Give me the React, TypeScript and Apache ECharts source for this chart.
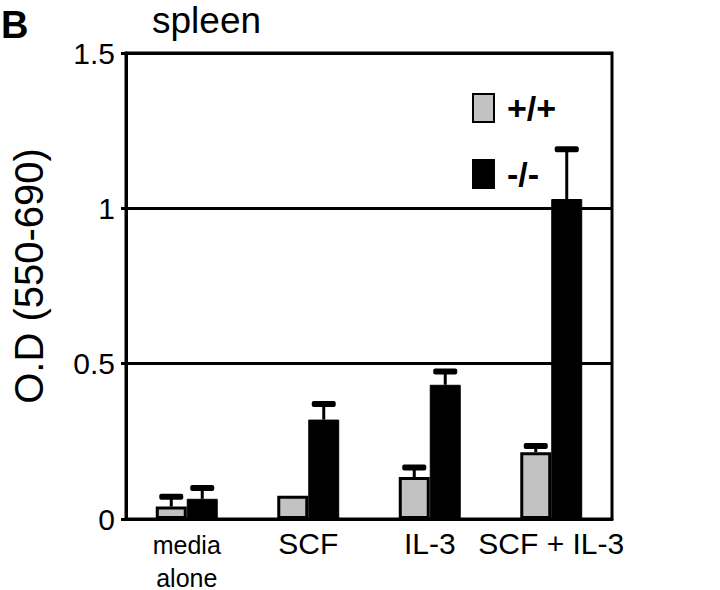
import React, { useEffect, useRef } from "react";
import * as echarts from "echarts";

const categories = ["media\nalone", "SCF", "IL-3", "SCF + IL-3"];
const wildType = [0.04, 0.075, 0.135, 0.215];
const wildTypeErrTop = [0.072, 0.075, 0.166, 0.235];
const knockout = [0.065, 0.32, 0.432, 1.03];
const knockoutErrTop = [0.1, 0.37, 0.475, 1.19];
const yTicks = [0, 0.5, 1, 1.5];
const seriesNames = ["+/+", "-/-"];

const FONT = "Liberation Sans, Arial, sans-serif";

export default function App() {
  const ref = useRef<HTMLDivElement>(null);
  useEffect(() => {
    if (!ref.current) return;
    const chart = echarts.init(ref.current, null, { renderer: "svg" });
    const barFrac = 0.255;
    const errRender = (sign: number) => (params: any, api: any) => {
      const idx = api.value(0);
      const top = api.value(1);
      const base = api.value(2);
      const band = api.size([1, 0])[0];
      const bw = band * barFrac;
      const pt = api.coord([idx, top]);
      const pb = api.coord([idx, base]);
      const x = pt[0] + sign * bw / 2;
      if (top <= base) return { type: "group", children: [] };
      return {
        type: "group",
        children: [
          { type: "line", shape: { x1: x, y1: pb[1], x2: x, y2: pt[1] }, style: { stroke: "#000", lineWidth: 3 } },
          { type: "rect", shape: { x: x - 12, y: pt[1] - 3, width: 24, height: 6, r: 2 }, style: { fill: "#000" } },
        ],
      };
    };
    chart.setOption({
      animation: false,
      backgroundColor: "#fff",
      textStyle: { fontFamily: FONT },
      grid: { left: 126, right: 108, top: 53, bottom: 65, show: true, borderColor: "#000", borderWidth: 3, containLabel: false },
      graphic: [
        { type: "text", left: 1, top: 6, style: { text: "B", font: `bold 38px ${FONT}`, fill: "#000" } },
        { type: "text", left: 152, top: 2, style: { text: "spleen", font: `37px ${FONT}`, fill: "#000" } },
      ],
      legend: {
        data: seriesNames,
        orient: "vertical",
        left: 467,
        top: 86,
        itemWidth: 21,
        itemHeight: 28,
        itemGap: 32,
        icon: "rect",
        textStyle: { fontSize: 34, fontWeight: "bold", color: "#000", fontFamily: FONT, padding: [0, 0, 0, 8] },
      },
      xAxis: {
        type: "category",
        data: categories,
        axisLine: { lineStyle: { color: "#000", width: 3 } },
        axisTick: { show: false },
        axisLabel: {
          interval: 0,
          color: "#000",
          fontSize: 30,
          margin: 9,
          fontFamily: FONT,
          formatter: (v: string) => (v.indexOf("\n") >= 0 ? `{s|${v.replace("\n", "}\n{s|")}}` : v),
          rich: { s: { fontSize: 25, lineHeight: 33, color: "#000", fontFamily: FONT } },
        },
      },
      yAxis: {
        type: "value",
        min: yTicks[0],
        max: yTicks[yTicks.length - 1],
        interval: 0.5,
        name: "O.D (550-690)",
        nameLocation: "middle",
        nameGap: 77,
        nameRotate: 90,
        nameTextStyle: { fontSize: 40, color: "#000", fontFamily: FONT, padding: [0, 0, 0, 20] },
        axisLine: { show: true, lineStyle: { color: "#000", width: 3 } },
        axisTick: { show: true, length: 5, lineStyle: { color: "#000", width: 3 } },
        axisLabel: { color: "#000", fontSize: 30, margin: 11, fontFamily: FONT, formatter: (v: number) => String(v) },
        splitLine: { show: true, lineStyle: { color: "#000", width: 3 } },
      },
      series: [
        {
          name: seriesNames[0],
          type: "bar",
          data: wildType,
          barWidth: `${barFrac * 100}%`,
          barGap: "0%",
          itemStyle: { color: "#c2c2c2", borderColor: "#000", borderWidth: 3 },
        },
        {
          name: seriesNames[1],
          type: "bar",
          data: knockout,
          barWidth: `${barFrac * 100}%`,
          barGap: "0%",
          itemStyle: { color: "#000", borderColor: "#000", borderWidth: 1 },
        },
        {
          type: "custom",
          renderItem: errRender(-1),
          data: wildType.map((v, i) => [i, wildTypeErrTop[i], v]),
          encode: { x: 0, y: 1 },
          z: 3,
        },
        {
          type: "custom",
          renderItem: errRender(1),
          data: knockout.map((v, i) => [i, knockoutErrTop[i], v]),
          encode: { x: 0, y: 1 },
          z: 3,
        },
      ],
    });
    return () => chart.dispose();
  }, []);
  return <div ref={ref} style={{ width: 720, height: 590, position: "absolute", left: 0, top: 0 }} />;
}
